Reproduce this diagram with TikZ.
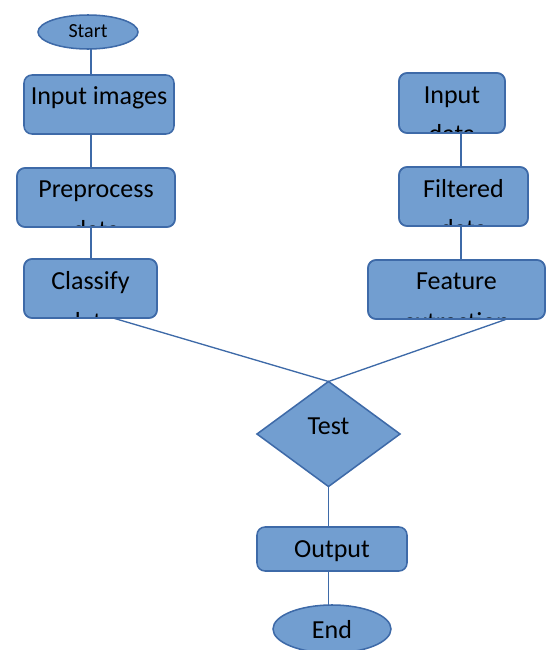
\documentclass[tikz,border=0pt]{standalone}
\usepackage{fontspec}
\setmainfont{Carlito}
\usetikzlibrary{shapes.geometric}

\definecolor{shapefill}{RGB}{114,158,208}
\definecolor{shapeline}{RGB}{62,106,168}

\tikzset{
  % size given in picture units (1 unit = 0.75pt)
  size/.style 2 args={minimum width=#1*0.75pt, minimum height=#2*0.75pt},
  shapebase/.style={fill=shapefill, draw=shapeline, line width=1.15pt, inner sep=0pt, outer sep=0pt},
  procbox/.style={shapebase, rectangle, rounded corners=6pt},
  termnode/.style={shapebase, ellipse},
  decnode/.style={shapebase, diamond},
  boxedge/.style={draw=shapeline, line width=1.15pt, rounded corners=6pt},
  boxtext/.style={anchor=base, inner sep=0pt, text=black, font=\fontsize{19.5pt}{23pt}\selectfont},
  smalltext/.style={anchor=base, inner sep=0pt, text=black, font=\fontsize{15pt}{18pt}\selectfont},
  link/.style={draw=shapeline, line width=1pt},
}

\begin{document}
\begin{tikzpicture}[x=0.75pt, y=-0.75pt]
\useasboundingbox (0,0) rectangle (546,650);

% x positions of the links
\coordinate (lx) at (91,0);
\coordinate (rx) at (461,0);
\coordinate (clsx) at (113,0);
\coordinate (feax) at (507,0);

% ---- terminal: start ----
\node[termnode, size={100}{34}] (start) at (88,32) {};
\node[smalltext] (start-t) at (88,37) {Start};

% ---- left column ----
\node[procbox, size={150}{59}] (in) at (99,104.5) {};
\node[boxtext] (in-t) at (99,104) {Input images};

\node[procbox, size={158}{59}] (pre) at (96,197.5) {};
\begin{scope}
  \clip (pre.south west) rectangle (pre.north east);
  \node[boxtext] (pre-t1) at (96,197) {Preprocess};
  \node[boxtext] (pre-t2) at (96,238) {data};
\end{scope}
\draw[boxedge] (pre.south west) rectangle (pre.north east);

\node[procbox, size={133}{59}] (cls) at (90.5,288.5) {};
\begin{scope}
  \clip (cls.south west) rectangle (cls.north east);
  \node[boxtext] (cls-t1) at (90.5,289) {Classify};
  \node[boxtext] (cls-t2) at (90.5,330) {data};
\end{scope}
\draw[boxedge] (cls.south west) rectangle (cls.north east);

% ---- right column ----
\node[procbox, size={106}{60}] (ind) at (452,103) {};
\begin{scope}
  \clip (ind.south west) rectangle (ind.north east);
  \node[boxtext] (ind-t1) at (452,103) {Input};
  \node[boxtext] (ind-t2) at (452,142) {data};
\end{scope}
\draw[boxedge] (ind.south west) rectangle (ind.north east);

\node[procbox, size={129}{59}] (fil) at (463.5,196.5) {};
\begin{scope}
  \clip (fil.south west) rectangle (fil.north east);
  \node[boxtext] (fil-t1) at (463.5,197) {Filtered};
  \node[boxtext] (fil-t2) at (463.5,237) {data};
\end{scope}
\draw[boxedge] (fil.south west) rectangle (fil.north east);

\node[procbox, size={177}{59}] (fea) at (456.5,289.5) {};
\begin{scope}
  \clip (fea.south west) rectangle (fea.north east);
  \node[boxtext] (fea-t1) at (456.5,289) {Feature};
  \node[boxtext] (fea-t2) at (456.5,330) {extraction};
\end{scope}
\draw[boxedge] (fea.south west) rectangle (fea.north east);

% ---- decision ----
\node[decnode, size={143}{105}] (test) at (328.5,434) {};
\node[boxtext] (test-t) at (328.5,434) {Test};

% ---- output and end ----
\node[procbox, size={150}{44}] (out) at (332,549) {};
\node[boxtext] (out-t) at (332,557) {Output};

\node[termnode, size={118}{48}] (end) at (332,629) {};
\node[boxtext] (end-t) at (332,638) {End};

% ---- links ----
\draw[link] (lx |- start.south) -- (lx |- in.north);
\draw[link] (lx |- in.south) -- (lx |- pre.north);
\draw[link] (lx |- pre.south) -- (lx |- cls.north);
\draw[link] (rx |- ind.south) -- (rx |- fil.north);
\draw[link] (rx |- fil.south) -- (rx |- fea.north);
\draw[link] (clsx |- cls.south) -- (test.north);
\draw[link] (feax |- fea.south) -- (test.north);
\draw[link] (test.south) -- (test.south |- out.north);
\draw[link] (test.south |- out.south) -- (test.south |- end.north);
\end{tikzpicture}
\end{document}
